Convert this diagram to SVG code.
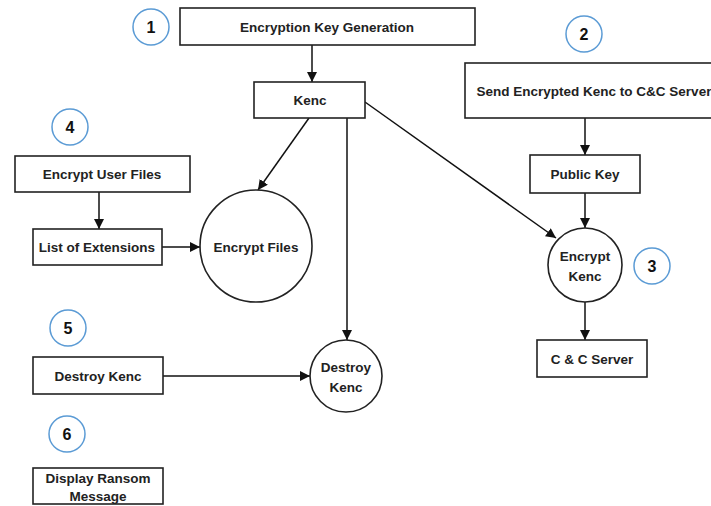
<svg xmlns="http://www.w3.org/2000/svg" width="711" height="506" viewBox="0 0 711 506">
<defs>
<marker id="ah" viewBox="0 0 10 10" refX="10" refY="5" markerWidth="10" markerHeight="10" markerUnits="userSpaceOnUse" orient="auto">
<path d="M0,0 L10,5 L0,10 z" fill="#111"/>
</marker>
<style>
.box{fill:#fff;stroke:#222;stroke-width:1.6}
.circ{fill:#fff;stroke:#222;stroke-width:1.6}
.num{fill:#fff;stroke:#5b9bd5;stroke-width:1.5}
.t{font-family:"Liberation Sans",Arial,sans-serif;font-weight:bold;font-size:13.5px;fill:#222;text-anchor:middle;dominant-baseline:central}
.n{font-family:"Liberation Sans",Arial,sans-serif;font-weight:bold;font-size:16px;fill:#111;text-anchor:middle;dominant-baseline:central}
.c{fill:none;stroke:#111;stroke-width:1.5;marker-end:url(#ah)}
</style>
</defs>
<rect width="711" height="506" fill="#fff"/>
<g id="connectors">
<line class="c" x1="312" y1="45" x2="312" y2="82"/>
<line class="c" x1="309" y1="118" x2="258" y2="190"/>
<line class="c" x1="347" y1="118" x2="347" y2="340"/>
<line class="c" x1="365" y1="102" x2="556" y2="238"/>
<line class="c" x1="585" y1="118" x2="585" y2="155"/>
<line class="c" x1="585" y1="193" x2="585" y2="228"/>
<line class="c" x1="585" y1="302" x2="585" y2="340"/>
<line class="c" x1="99" y1="192" x2="99" y2="229"/>
<line class="c" x1="162" y1="247" x2="200" y2="247"/>
<line class="c" x1="163" y1="376" x2="310" y2="376"/>
</g>
<g id="num1"><circle class="num" cx="151" cy="27" r="18"/><text class="n" x="151" y="27">1</text></g>
<g id="num2"><circle class="num" cx="584" cy="34" r="18"/><text class="n" x="584" y="34">2</text></g>
<g id="num3"><circle class="num" cx="652" cy="266" r="18"/><text class="n" x="652" y="266">3</text></g>
<g id="num4"><circle class="num" cx="70" cy="127" r="18"/><text class="n" x="70" y="127">4</text></g>
<g id="num5"><circle class="num" cx="68" cy="328" r="18"/><text class="n" x="68" y="328">5</text></g>
<g id="num6"><circle class="num" cx="67" cy="434" r="18"/><text class="n" x="67" y="434">6</text></g>
<g id="keygen"><rect class="box" x="180" y="8" width="295" height="37"/><text class="t" x="327" y="27">Encryption Key Generation</text></g>
<g id="kenc"><rect class="box" x="254" y="82" width="111" height="36"/><text class="t" x="310" y="100">Kenc</text></g>
<g id="send"><rect class="box" x="465" y="63" width="257" height="55"/><text class="t" x="594" y="91">Send Encrypted Kenc to C&amp;C Server</text></g>
<g id="pubkey"><rect class="box" x="530" y="155" width="110" height="38"/><text class="t" x="585" y="174">Public Key</text></g>
<g id="enckenc"><circle class="circ" cx="585" cy="265" r="37"/><text class="t" x="585" y="256">Encrypt</text><text class="t" x="585" y="276">Kenc</text></g>
<g id="ccserver"><rect class="box" x="537" y="340" width="110" height="37"/><text class="t" x="592" y="359">C &amp; C Server</text></g>
<g id="encuser"><rect class="box" x="15" y="156" width="175" height="36"/><text class="t" x="102" y="174">Encrypt User Files</text></g>
<g id="listext"><rect class="box" x="33" y="229" width="129" height="36"/><text class="t" x="97" y="247">List of Extensions</text></g>
<g id="encfiles"><circle class="circ" cx="256" cy="246" r="56"/><text class="t" x="256" y="247">Encrypt Files</text></g>
<g id="destroybox"><rect class="box" x="33" y="357" width="130" height="37"/><text class="t" x="98" y="376">Destroy Kenc</text></g>
<g id="destroycirc"><circle class="circ" cx="346" cy="376" r="36"/><text class="t" x="346" y="367">Destroy</text><text class="t" x="346" y="387">Kenc</text></g>
<g id="ransom"><rect class="box" x="33" y="468" width="130" height="36"/><text class="t" x="98" y="478">Display Ransom</text><text class="t" x="98" y="496">Message</text></g>
</svg>
